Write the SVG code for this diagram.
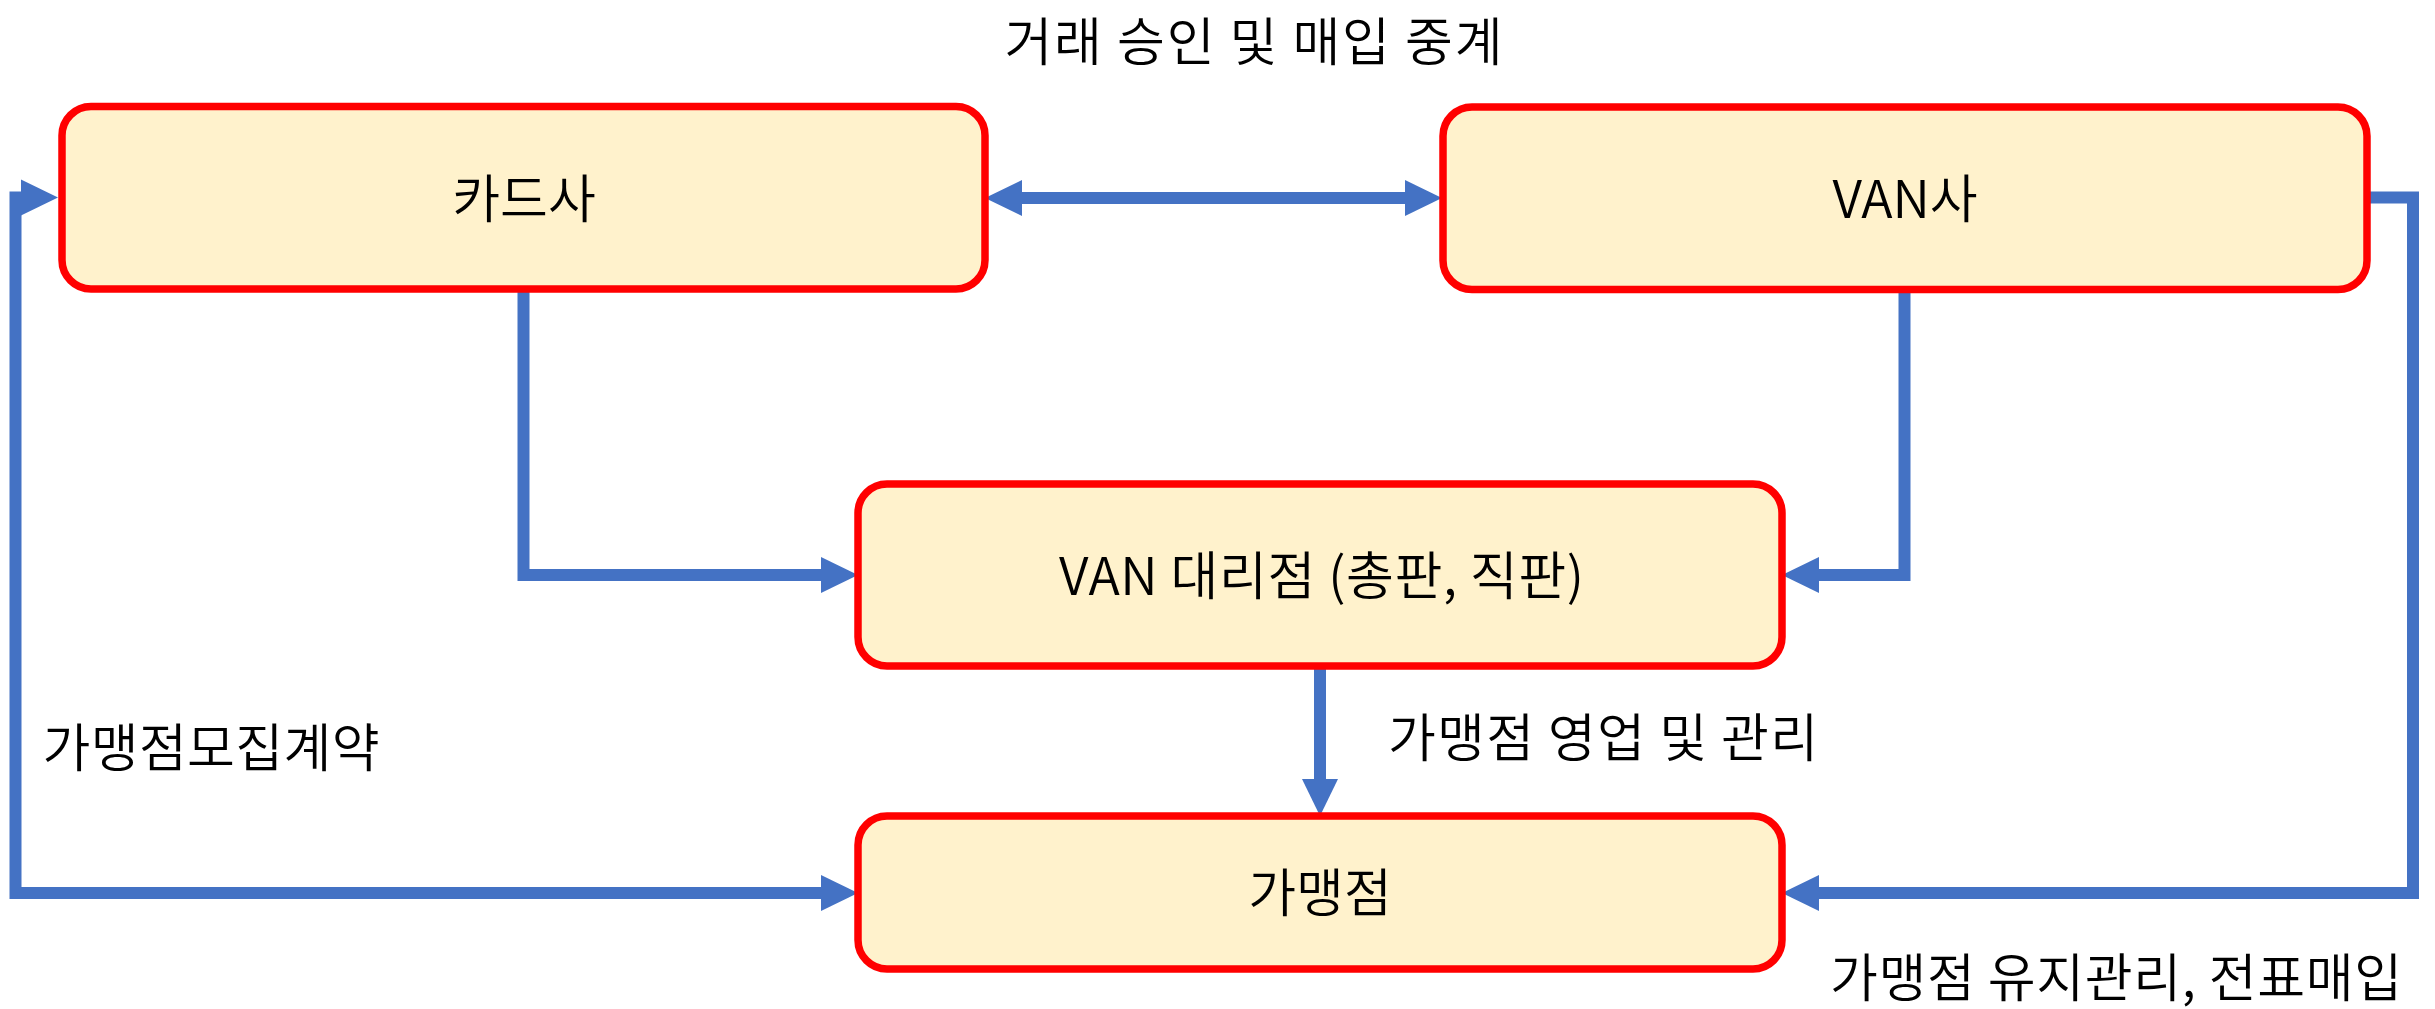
<svg xmlns="http://www.w3.org/2000/svg" width="2435" height="1009" viewBox="0 0 2435 1009">
  <style>
    .box { fill: #FFF2CC; stroke: #FF0000; stroke-width: 7.5; }
    .lbl { font-family: "Noto Sans CJK KR", "Noto Sans", sans-serif; font-size: 52px; font-weight: 350; fill: #000000; }
    .mid { text-anchor: middle; }
    .conn { fill: none; stroke: #4472C4; stroke-width: 12; stroke-linejoin: miter; stroke-linecap: butt; }
  </style>
  <defs>
    <marker id="arrow" markerUnits="userSpaceOnUse" markerWidth="37" markerHeight="37" refX="0" refY="18" orient="auto-start-reverse" viewBox="0 0 37 36">
      <path d="M0,0 L37,18 L0,36 Z" fill="#4472C4"/>
    </marker>
  </defs>
  <rect width="2435" height="1009" fill="#FFFFFF"/>

  <g id="connectors">
    <path class="conn" d="M1022,198 L1405,198" marker-start="url(#arrow)" marker-end="url(#arrow)"/>
    <path class="conn" d="M523.5,289 L523.5,575 L821,575" marker-end="url(#arrow)"/>
    <path class="conn" d="M1904.5,289 L1904.5,575 L1819,575" marker-end="url(#arrow)"/>
    <path class="conn" d="M1320,666 L1320,779" marker-end="url(#arrow)"/>
    <path class="conn" d="M21,197.5 L15.5,197.5 L15.5,893 L821,893" marker-start="url(#arrow)" marker-end="url(#arrow)"/>
    <path class="conn" d="M2367,197.5 L2413,197.5 L2413,893 L1819,893" marker-end="url(#arrow)"/>
  </g>

  <g id="node-card">
    <rect class="box" x="62" y="106.5" width="923" height="182.5" rx="29" ry="29"/>
    <text class="lbl mid" x="524" y="218">카드사</text>
  </g>
  <g id="node-van">
    <rect class="box" x="1443" y="107" width="924" height="182.5" rx="29" ry="29"/>
    <text class="lbl mid" x="1905" y="218">VAN사</text>
  </g>
  <g id="node-agency">
    <rect class="box" x="858" y="484" width="924" height="182" rx="29" ry="29"/>
    <text class="lbl" x="1059" y="595" textLength="525" lengthAdjust="spacing">VAN 대리점 (총판, 직판)</text>
  </g>
  <g id="node-merchant">
    <rect class="box" x="858" y="816" width="924" height="153" rx="29" ry="29"/>
    <text class="lbl mid" x="1320" y="912">가맹점</text>
  </g>

  <g id="labels">
    <text class="lbl" x="1004.5" y="61" textLength="498" lengthAdjust="spacing">거래 승인 및 매입 중계</text>
    <text class="lbl" x="1388" y="757" textLength="430" lengthAdjust="spacing">가맹점 영업 및 관리</text>
    <text class="lbl" x="42.5" y="767" textLength="337" lengthAdjust="spacing">가맹점모집계약</text>
    <text class="lbl" x="1830" y="997" textLength="572" lengthAdjust="spacing">가맹점 유지관리, 전표매입</text>
  </g>
</svg>
